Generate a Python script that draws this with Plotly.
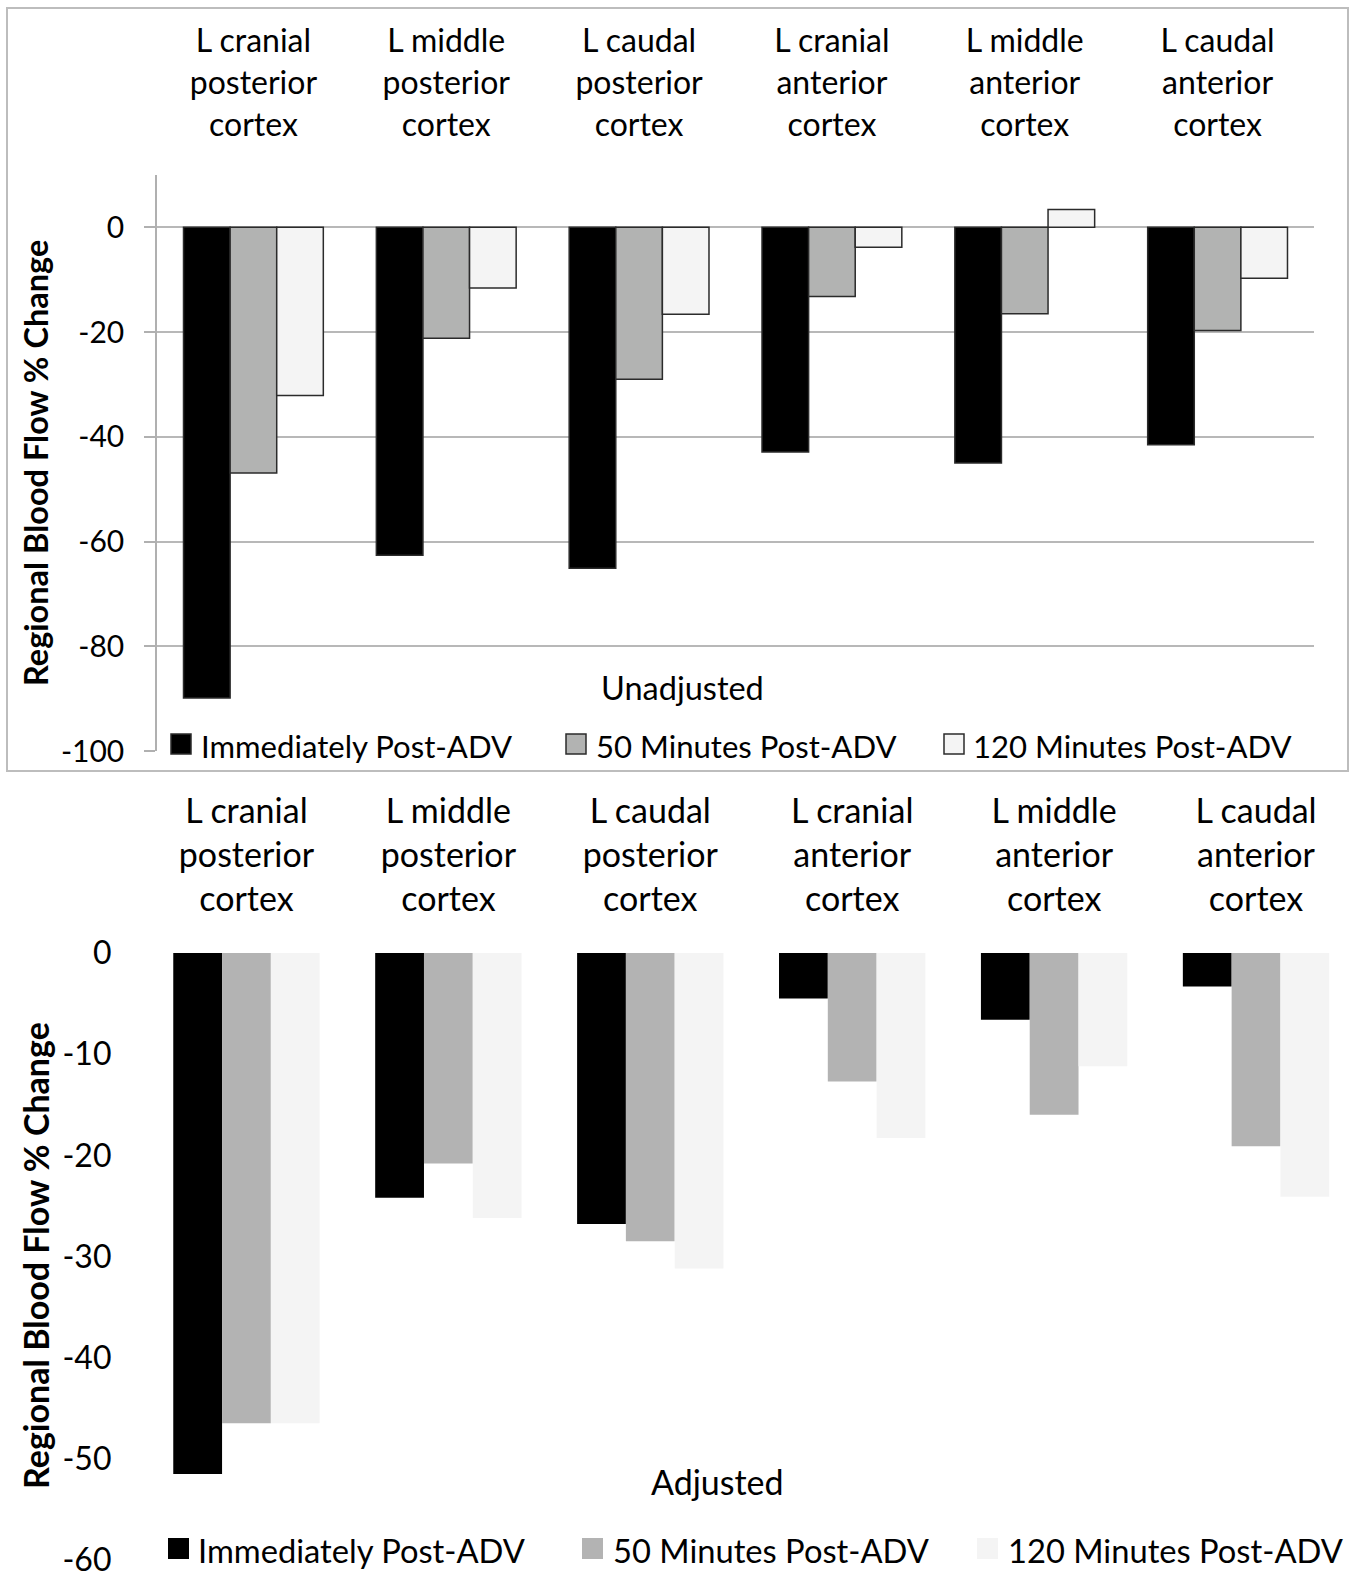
import plotly.graph_objects as go

categories = ["L cranial posterior cortex", "L middle posterior cortex", "L caudal posterior cortex",
              "L cranial anterior cortex", "L middle anterior cortex", "L caudal anterior cortex"]
tick_labels = ["L cranial<br>posterior<br>cortex", "L middle<br>posterior<br>cortex", "L caudal<br>posterior<br>cortex",
               "L cranial<br>anterior<br>cortex", "L middle<br>anterior<br>cortex", "L caudal<br>anterior<br>cortex"]
series_names = ["Immediately Post-ADV", "50 Minutes Post-ADV", "120 Minutes Post-ADV"]

unadj_immediate = [-89.9, -62.6, -65.1, -42.9, -45.0, -41.5]
unadj_50min = [-46.9, -21.2, -29.0, -13.2, -16.5, -19.7]
unadj_120min = [-32.1, -11.6, -16.6, -3.8, 3.4, -9.7]

adj_immediate = [-51.5, -24.2, -26.8, -4.5, -6.6, -3.3]
adj_50min = [-46.5, -20.8, -28.5, -12.7, -16.0, -19.1]
adj_120min = [-46.5, -26.2, -31.2, -18.3, -11.2, -24.1]

top_ticks = [0, -20, -40, -60, -80, -100]
top_tick_text = ["0", "-20", "-40", "-60", "-80", "-100"]
bot_ticks = [0, -10, -20, -30, -40, -50, -60]
bot_tick_text = ["0", "-10", "-20", "-30", "-40", "-50", "-60"]

panel_titles = ["Unadjusted", "Adjusted"]
y_title = "Regional Blood Flow % Change"

W, H = 1357, 1577
FONT = "Lato"
colors_top = ["#000000", "#b2b3b2", "#f4f4f4"]
colors_bot = ["#000000", "#b3b3b3", "#f4f4f4"]

def px(x):
    return x / W

def py(y):
    return 1 - y / H

fig = go.Figure()

for name, vals, col in zip(series_names, [unadj_immediate, unadj_50min, unadj_120min], colors_top):
    fig.add_trace(go.Bar(x=categories, y=vals, name=name, marker=dict(color=col, line=dict(color="#2b2b2b", width=1.5)),
                         xaxis="x", yaxis="y", showlegend=False))
for name, vals, col in zip(series_names, [adj_immediate, adj_50min, adj_120min], colors_bot):
    fig.add_trace(go.Bar(x=categories, y=vals, name=name, marker=dict(color=col, line=dict(width=0)),
                         xaxis="x2", yaxis="y2", showlegend=False))

fig.update_layout(
    template="none",
    width=W, height=H, margin=dict(l=0, r=0, t=0, b=0, autoexpand=False),
    paper_bgcolor="white", plot_bgcolor="white",
    barmode="group", bargap=0.275, bargroupgap=0,
    font=dict(family=FONT, color="black"),
    xaxis=dict(domain=[px(157), px(1314)], anchor="y", side="top", type="category", automargin=False,
               tickvals=categories, ticktext=tick_labels, tickfont=dict(size=32, family=FONT),
               showline=False, showgrid=False, zeroline=False, ticks="", ticklabelstandoff=32),
    yaxis=dict(domain=[py(751), py(175)], anchor="x", range=[-100, 10], automargin=False,
               tickvals=top_ticks, ticktext=top_tick_text,
               tickfont=dict(size=30, family=FONT), showline=True, linecolor="#b0b0b0", linewidth=1.5,
               ticks="outside", ticklen=11, tickcolor="#b0b0b0", tickwidth=1.5, ticklabeloverflow="allow",
               showgrid=True, gridcolor="#b8b8b8", gridwidth=2, zeroline=False, ticklabelstandoff=14),
    xaxis2=dict(domain=[px(145.5), 1.0], anchor="y2", side="top", type="category", automargin=False,
                tickvals=categories, ticktext=tick_labels, tickfont=dict(size=34, family=FONT),
                showline=False, showgrid=False, zeroline=False, ticks="", ticklabelstandoff=34),
    yaxis2=dict(domain=[py(1560), py(953)], anchor="x2", range=[-60.01, 0], automargin=False,
                tickvals=bot_ticks, ticktext=bot_tick_text, ticklabeloverflow="allow",
                tickfont=dict(size=32, family=FONT), showline=False, ticks="", showgrid=False, zeroline=False,
                ticklabelstandoff=33),
)

# outer frame around the top panel
fig.add_shape(type="rect", xref="paper", yref="paper", x0=px(7), x1=px(1348), y0=py(771), y1=py(8),
              line=dict(color="#bdbdbd", width=2), fillcolor="rgba(0,0,0,0)", layer="below")

annotations = []
# y-axis titles
annotations.append(dict(text="<b>" + y_title + "</b>", x=px(35), y=py(463), xref="paper", yref="paper",
                        textangle=-90, showarrow=False, font=dict(size=32.5, family=FONT, color="black"),
                        xanchor="center", yanchor="middle"))
annotations.append(dict(text="<b>" + y_title + "</b>", x=px(35), y=py(1256), xref="paper", yref="paper",
                        textangle=-90, showarrow=False, font=dict(size=34, family=FONT, color="black"),
                        xanchor="center", yanchor="middle"))
# panel titles
annotations.append(dict(text=panel_titles[0], x=px(682), y=py(687), xref="paper", yref="paper", showarrow=False,
                        font=dict(size=32.5, family=FONT, color="black"), xanchor="center", yanchor="middle"))
annotations.append(dict(text=panel_titles[1], x=px(717), y=py(1481), xref="paper", yref="paper", showarrow=False,
                        font=dict(size=34, family=FONT, color="black"), xanchor="center", yanchor="middle"))

# legends (manual, to match swatch size)
top_leg = [(171, 199), (566, 594), (944, 971)]
for (sx, tx), name, col in zip(top_leg, series_names, colors_top):
    fig.add_shape(type="rect", xref="paper", yref="paper", x0=px(sx), x1=px(sx + 20), y0=py(754), y1=py(734),
                  fillcolor=col, line=dict(color="#2b2b2b", width=1.5))
    annotations.append(dict(text=name, x=px(tx), y=py(746), xref="paper", yref="paper", showarrow=False,
                            font=dict(size=31.1, family=FONT, color="black"), xanchor="left", yanchor="middle"))
bot_leg = [(168, 196), (582, 611), (977, 1006)]
for (sx, tx), name, col in zip(bot_leg, series_names, colors_bot):
    fig.add_shape(type="rect", xref="paper", yref="paper", x0=px(sx), x1=px(sx + 21), y0=py(1559), y1=py(1538),
                  fillcolor=col, line=dict(width=0))
    annotations.append(dict(text=name, x=px(tx), y=py(1550), xref="paper", yref="paper", showarrow=False,
                            font=dict(size=32.7, family=FONT, color="black"), xanchor="left", yanchor="middle"))

fig.update_layout(annotations=annotations)
fig.write_html("out.html")
